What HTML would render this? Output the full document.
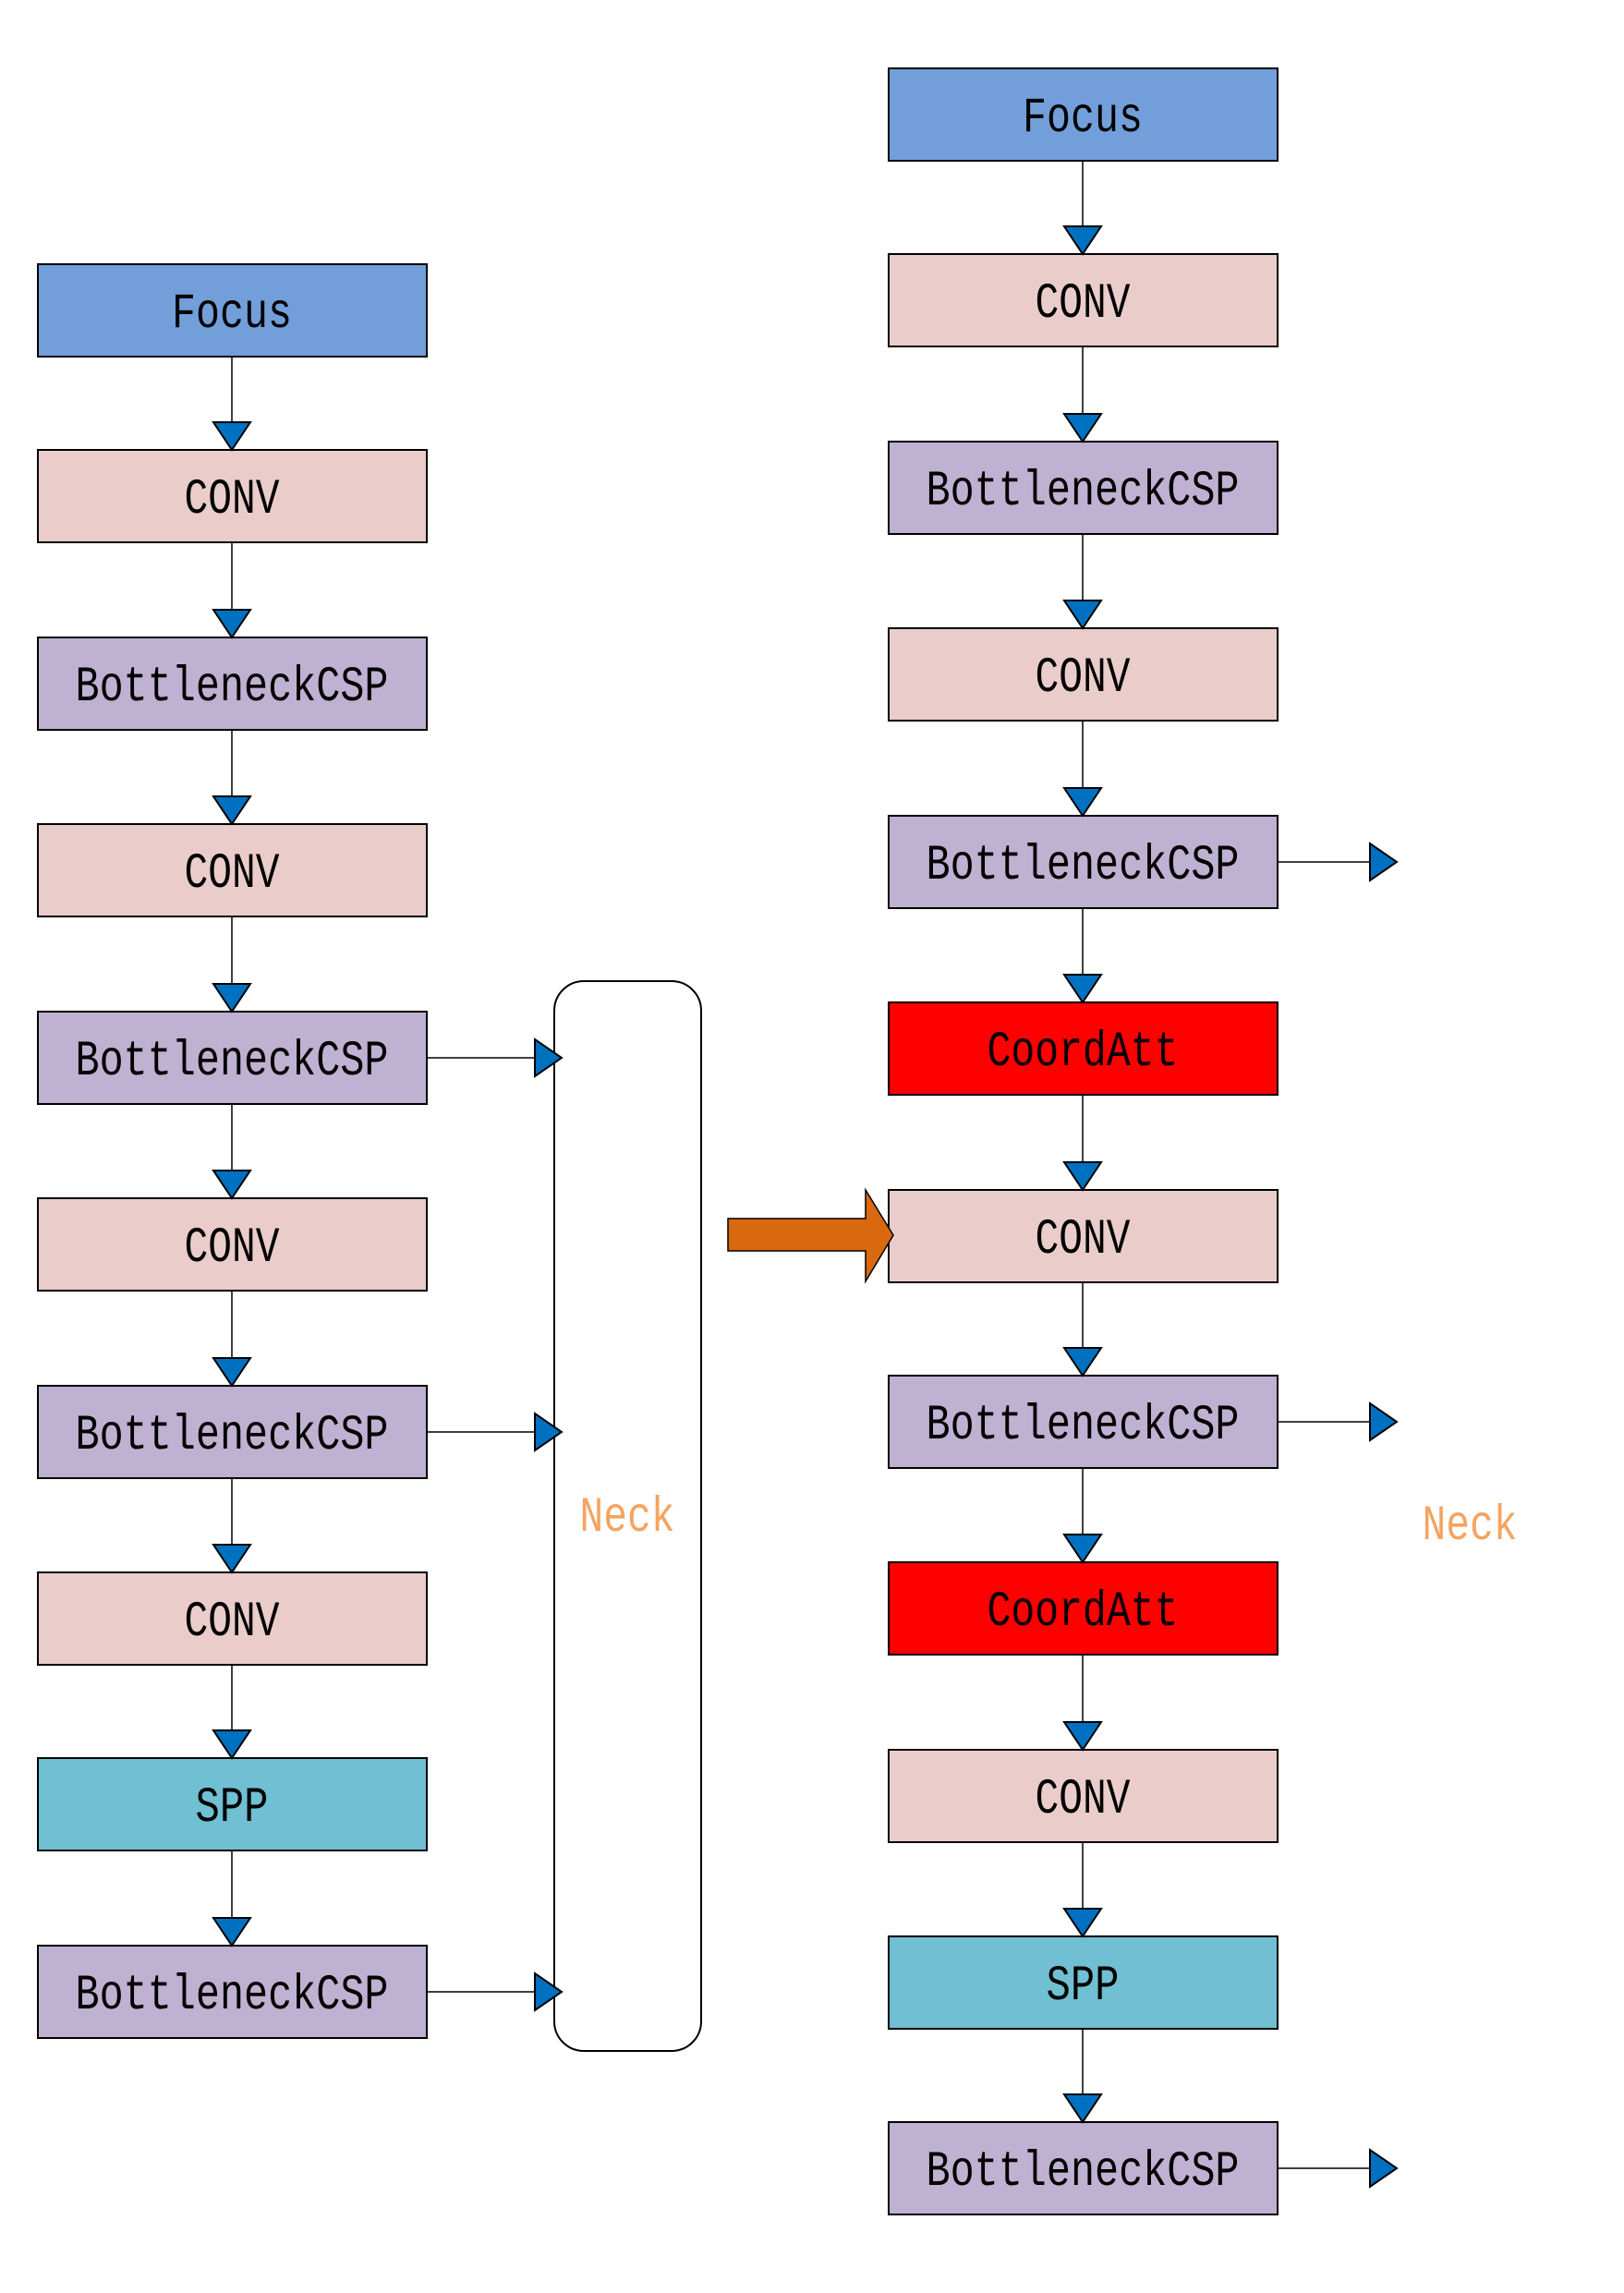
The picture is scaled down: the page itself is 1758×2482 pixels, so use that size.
<!DOCTYPE html>
<html><head><meta charset="utf-8"><style>html,body{margin:0;padding:0;background:#fff}svg{display:block}</style></head>
<body>
<svg width="1758" height="2482" viewBox="0 0 1758 2482" xmlns="http://www.w3.org/2000/svg" font-family="'Liberation Mono', monospace" font-size="54">
<defs>
<g id="dn"><polygon points="-20,-30 20,-30 0,0" fill="#0070C0" stroke="#000" stroke-width="2"/></g>
<g id="rt"><polygon points="-29,-20 -29,20 0,0" fill="#0070C0" stroke="#000" stroke-width="2"/></g>
</defs>
<g stroke="#000" stroke-width="2">
<rect x="41" y="286" width="421" height="100" fill="#729FDA"/>
<rect x="41" y="487" width="421" height="100" fill="#EACDCB"/>
<rect x="41" y="690" width="421" height="100" fill="#BFB1D1"/>
<rect x="41" y="892" width="421" height="100" fill="#EACDCB"/>
<rect x="41" y="1095" width="421" height="100" fill="#BFB1D1"/>
<rect x="41" y="1297" width="421" height="100" fill="#EACDCB"/>
<rect x="41" y="1500" width="421" height="100" fill="#BFB1D1"/>
<rect x="41" y="1702" width="421" height="100" fill="#EACDCB"/>
<rect x="41" y="1903" width="421" height="100" fill="#70BFD2"/>
<rect x="41" y="2106" width="421" height="100" fill="#BFB1D1"/>
<rect x="962" y="74" width="421" height="100" fill="#729FDA"/>
<rect x="962" y="275" width="421" height="100" fill="#EACDCB"/>
<rect x="962" y="478" width="421" height="100" fill="#BFB1D1"/>
<rect x="962" y="680" width="421" height="100" fill="#EACDCB"/>
<rect x="962" y="883" width="421" height="100" fill="#BFB1D1"/>
<rect x="962" y="1085" width="421" height="100" fill="#FF0000"/>
<rect x="962" y="1288" width="421" height="100" fill="#EACDCB"/>
<rect x="962" y="1489" width="421" height="100" fill="#BFB1D1"/>
<rect x="962" y="1691" width="421" height="100" fill="#FF0000"/>
<rect x="962" y="1894" width="421" height="100" fill="#EACDCB"/>
<rect x="962" y="2096" width="421" height="100" fill="#70BFD2"/>
<rect x="962" y="2297" width="421" height="100" fill="#BFB1D1"/>
<rect x="600" y="1062" width="159" height="1158" rx="32" fill="none"/>
</g>
<g stroke="#000" stroke-width="1.5">
<path d="M251 386V487M251 587V690M251 790V892M251 992V1095M251 1195V1297M251 1397V1500M251 1600V1702M251 1802V1903M251 2003V2106"/>
<path d="M1172 174V275M1172 375V478M1172 578V680M1172 780V883M1172 983V1085M1172 1185V1288M1172 1388V1489M1172 1589V1691M1172 1791V1894M1172 1994V2096M1172 2196V2297"/>
<path d="M462 1145H600M462 1550H600M462 2156H600"/>
<path d="M1383 933H1483M1383 1539H1483M1383 2347H1483"/>
</g>
<g>
<use href="#dn" x="251" y="487"/><use href="#dn" x="251" y="690"/><use href="#dn" x="251" y="892"/><use href="#dn" x="251" y="1095"/><use href="#dn" x="251" y="1297"/><use href="#dn" x="251" y="1500"/><use href="#dn" x="251" y="1702"/><use href="#dn" x="251" y="1903"/><use href="#dn" x="251" y="2106"/>
<use href="#dn" x="1172" y="275"/><use href="#dn" x="1172" y="478"/><use href="#dn" x="1172" y="680"/><use href="#dn" x="1172" y="883"/><use href="#dn" x="1172" y="1085"/><use href="#dn" x="1172" y="1288"/><use href="#dn" x="1172" y="1489"/><use href="#dn" x="1172" y="1691"/><use href="#dn" x="1172" y="1894"/><use href="#dn" x="1172" y="2096"/><use href="#dn" x="1172" y="2297"/>
<use href="#rt" x="608" y="1145"/><use href="#rt" x="608" y="1550"/><use href="#rt" x="608" y="2156"/>
<use href="#rt" x="1512" y="933"/><use href="#rt" x="1512" y="1539"/><use href="#rt" x="1512" y="2347"/>
</g>
<polygon points="788,1319 937,1319 937,1288 967,1337 937,1387 937,1354 788,1354" fill="#D9690E" stroke="#000" stroke-width="1.5"/>
<g text-anchor="middle" fill="#000">
<text x="251" y="354" textLength="130" lengthAdjust="spacingAndGlyphs">Focus</text>
<text x="251" y="555" textLength="103" lengthAdjust="spacingAndGlyphs">CONV</text>
<text x="251" y="758" textLength="339" lengthAdjust="spacingAndGlyphs">BottleneckCSP</text>
<text x="251" y="960" textLength="103" lengthAdjust="spacingAndGlyphs">CONV</text>
<text x="251" y="1163" textLength="339" lengthAdjust="spacingAndGlyphs">BottleneckCSP</text>
<text x="251" y="1365" textLength="103" lengthAdjust="spacingAndGlyphs">CONV</text>
<text x="251" y="1568" textLength="339" lengthAdjust="spacingAndGlyphs">BottleneckCSP</text>
<text x="251" y="1770" textLength="103" lengthAdjust="spacingAndGlyphs">CONV</text>
<text x="251" y="1971" textLength="79" lengthAdjust="spacingAndGlyphs">SPP</text>
<text x="251" y="2174" textLength="339" lengthAdjust="spacingAndGlyphs">BottleneckCSP</text>
<text x="1172" y="142" textLength="130" lengthAdjust="spacingAndGlyphs">Focus</text>
<text x="1172" y="343" textLength="103" lengthAdjust="spacingAndGlyphs">CONV</text>
<text x="1172" y="546" textLength="339" lengthAdjust="spacingAndGlyphs">BottleneckCSP</text>
<text x="1172" y="748" textLength="103" lengthAdjust="spacingAndGlyphs">CONV</text>
<text x="1172" y="951" textLength="339" lengthAdjust="spacingAndGlyphs">BottleneckCSP</text>
<text x="1172" y="1153" textLength="207" lengthAdjust="spacingAndGlyphs">CoordAtt</text>
<text x="1172" y="1356" textLength="103" lengthAdjust="spacingAndGlyphs">CONV</text>
<text x="1172" y="1557" textLength="339" lengthAdjust="spacingAndGlyphs">BottleneckCSP</text>
<text x="1172" y="1759" textLength="207" lengthAdjust="spacingAndGlyphs">CoordAtt</text>
<text x="1172" y="1962" textLength="103" lengthAdjust="spacingAndGlyphs">CONV</text>
<text x="1172" y="2164" textLength="79" lengthAdjust="spacingAndGlyphs">SPP</text>
<text x="1172" y="2365" textLength="339" lengthAdjust="spacingAndGlyphs">BottleneckCSP</text>
</g>
<g text-anchor="middle" fill="#F4A460">
<text x="679" y="1657" textLength="103" lengthAdjust="spacingAndGlyphs">Neck</text>
<text x="1591" y="1666" textLength="103" lengthAdjust="spacingAndGlyphs">Neck</text>
</g>
</svg>
</body></html>
